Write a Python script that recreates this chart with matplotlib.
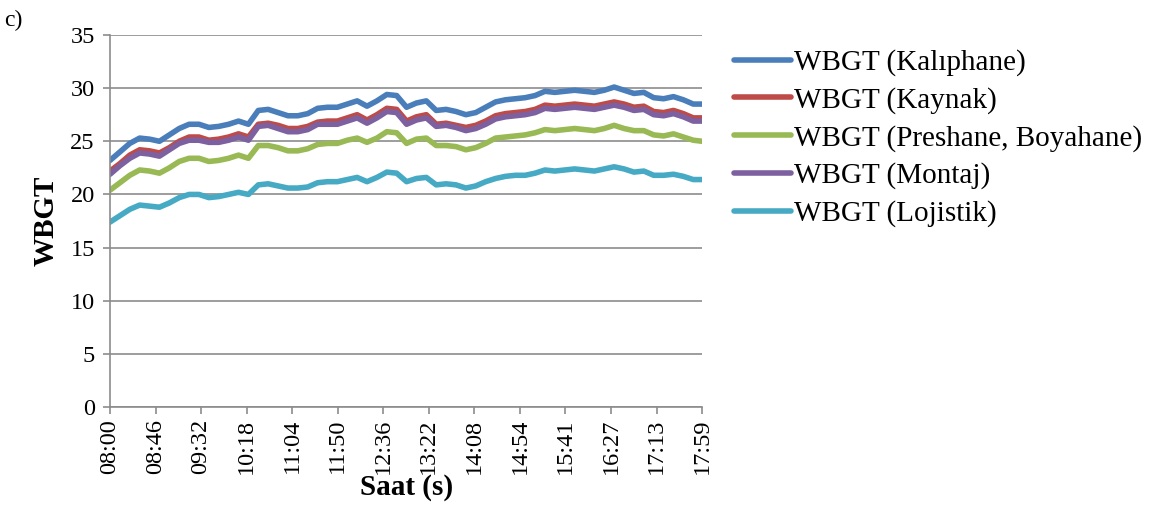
import numpy as np
import matplotlib.pyplot as plt

plt.rcParams['font.family'] = ['Liberation Serif', 'DejaVu Serif']

# minutes after 08:00, read every 10 min
minutes = list(range(0, 600, 10)) + [599]
tick_labels = ['08:00', '08:46', '09:32', '10:18', '11:04', '11:50', '12:36',
               '13:22', '14:08', '14:54', '15:41', '16:27', '17:13', '17:59']

kaliphane = [23.2, 24.0, 24.8, 25.3, 25.2, 25.0, 25.6, 26.2, 26.6, 26.6,
             26.3, 26.4, 26.6, 26.9, 26.6, 27.9, 28.0, 27.7, 27.4, 27.4,
             27.6, 28.1, 28.2, 28.2, 28.5, 28.8, 28.3, 28.8, 29.4, 29.3,
             28.2, 28.6, 28.8, 27.9, 28.0, 27.8, 27.5, 27.7, 28.2, 28.7,
             28.9, 29.0, 29.1, 29.3, 29.7, 29.6, 29.7, 29.8, 29.7, 29.6,
             29.8, 30.1, 29.8, 29.5, 29.6, 29.1, 29.0, 29.2, 28.9, 28.5, 28.5]
kaynak = [22.2, 22.9, 23.7, 24.2, 24.1, 23.9, 24.4, 25.0, 25.4, 25.4,
          25.1, 25.2, 25.4, 25.7, 25.4, 26.6, 26.7, 26.5, 26.2, 26.2,
          26.4, 26.8, 26.9, 26.9, 27.2, 27.5, 27.0, 27.5, 28.1, 28.0,
          26.9, 27.3, 27.5, 26.6, 26.7, 26.5, 26.3, 26.5, 26.9, 27.4,
          27.6, 27.7, 27.8, 28.0, 28.4, 28.3, 28.4, 28.5, 28.4, 28.3,
          28.5, 28.7, 28.5, 28.2, 28.3, 27.8, 27.7, 27.9, 27.6, 27.2, 27.2]
preshane = [20.4, 21.1, 21.8, 22.3, 22.2, 22.0, 22.5, 23.1, 23.4, 23.4,
            23.1, 23.2, 23.4, 23.7, 23.4, 24.6, 24.6, 24.4, 24.1, 24.1,
            24.3, 24.7, 24.8, 24.8, 25.1, 25.3, 24.9, 25.3, 25.9, 25.8,
            24.8, 25.2, 25.3, 24.6, 24.6, 24.5, 24.2, 24.4, 24.8, 25.3,
            25.4, 25.5, 25.6, 25.8, 26.1, 26.0, 26.1, 26.2, 26.1, 26.0,
            26.2, 26.5, 26.2, 26.0, 26.0, 25.6, 25.5, 25.7, 25.4, 25.1, 25.0]
montaj = [21.9, 22.7, 23.4, 23.9, 23.8, 23.6, 24.2, 24.8, 25.1, 25.1,
          24.9, 24.9, 25.1, 25.4, 25.1, 26.4, 26.5, 26.2, 25.9, 25.9,
          26.1, 26.6, 26.6, 26.6, 26.9, 27.2, 26.7, 27.2, 27.8, 27.7,
          26.6, 27.0, 27.2, 26.4, 26.5, 26.3, 26.0, 26.2, 26.6, 27.1,
          27.3, 27.4, 27.5, 27.7, 28.1, 28.0, 28.1, 28.2, 28.1, 28.0,
          28.2, 28.4, 28.2, 27.9, 28.0, 27.5, 27.4, 27.6, 27.3, 26.9, 26.9]
lojistik = [17.4, 18.0, 18.6, 19.0, 18.9, 18.8, 19.2, 19.7, 20.0, 20.0,
            19.7, 19.8, 20.0, 20.2, 20.0, 20.9, 21.0, 20.8, 20.6, 20.6,
            20.7, 21.1, 21.2, 21.2, 21.4, 21.6, 21.2, 21.6, 22.1, 22.0,
            21.2, 21.5, 21.6, 20.9, 21.0, 20.9, 20.6, 20.8, 21.2, 21.5,
            21.7, 21.8, 21.8, 22.0, 22.3, 22.2, 22.3, 22.4, 22.3, 22.2,
            22.4, 22.6, 22.4, 22.1, 22.2, 21.8, 21.8, 21.9, 21.7, 21.4, 21.4]

series = [
    ('WBGT (Kalıphane)', kaliphane, '#4A7EBB'),
    ('WBGT (Kaynak)', kaynak, '#BE4B48'),
    ('WBGT (Preshane, Boyahane)', preshane, '#98B954'),
    ('WBGT (Montaj)', montaj, '#7D60A0'),
    ('WBGT (Lojistik)', lojistik, '#46AAC5'),
]

fig = plt.figure(figsize=(11.52, 5.14), dpi=100)
ax = fig.add_axes([0.0955, 0.208, 0.514, 0.724])

for name, vals, col in series:
    ax.plot(minutes, vals, color=col, lw=4.0, label=name,
            solid_capstyle='round', solid_joinstyle='round')

ax.set_xlim(0, 599)
ax.set_ylim(0, 35)
ax.set_yticks(range(0, 36, 5))
ax.set_xticks(np.linspace(0, 599, len(tick_labels)))
ax.set_xticklabels(tick_labels, rotation=90)
ax.grid(axis='y', color='#8c8c8c', lw=1.2)
ax.set_axisbelow(True)
for s in ['top', 'right']:
    ax.spines[s].set_visible(False)
for s in ['left', 'bottom']:
    ax.spines[s].set_color('#8c8c8c')
    ax.spines[s].set_linewidth(1.2)
ax.tick_params(axis='both', colors='#8c8c8c', labelcolor='black', labelsize=17.5,
               length=5, width=1.2)
ax.tick_params(axis='y', pad=6)

ax.set_ylabel('WBGT', fontsize=21, fontweight='bold', labelpad=8)
ax.set_xlabel('Saat (s)', fontsize=21, fontweight='bold', labelpad=0)

fig.text(0.004, 0.95, 'c)', fontsize=17)

fig.legend(loc='upper left', bbox_to_anchor=(0.627, 0.927), frameon=False,
           fontsize=21, handlelength=1.95, handletextpad=0.12, labelspacing=0.37,
           borderaxespad=0)

fig.savefig('out.png', dpi=100)
